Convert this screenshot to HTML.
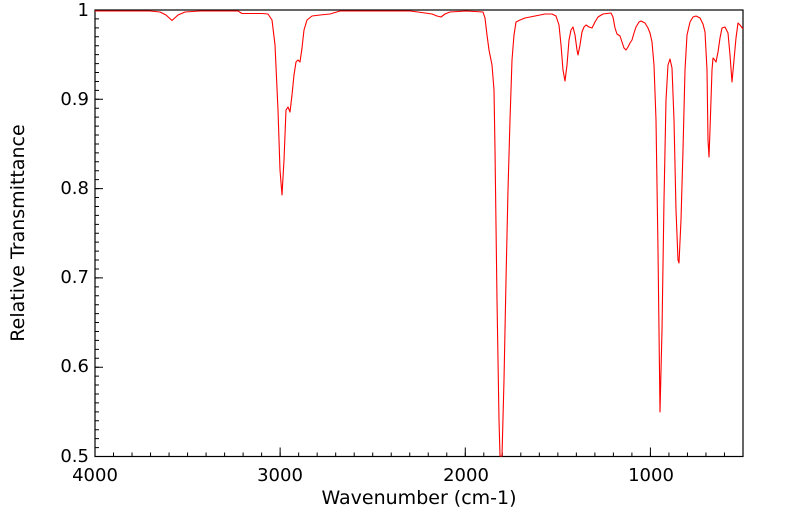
<!DOCTYPE html>
<html><head><meta charset="utf-8"><style>
html,body{margin:0;padding:0;background:#fff;}
svg{display:block;}
text{font-family:"DejaVu Sans","Liberation Sans",sans-serif;fill:#000;}
</style></head><body>
<svg width="799" height="516" viewBox="0 0 799 516" xmlns="http://www.w3.org/2000/svg">
<g stroke="#000" fill="none">
<line x1="97" y1="9.5" x2="97" y2="457.5" stroke-width="4" stroke-dasharray="1 7.93"/>
<line x1="99" y1="9.5" x2="99" y2="457.5" stroke-width="8" stroke-dasharray="1 88.3"/>
<line x1="94.5" y1="454.5" x2="744" y2="454.5" stroke-width="4" stroke-dasharray="1 17.514"/>
<line x1="94.5" y1="452" x2="744" y2="452" stroke-width="9" stroke-dasharray="1 184.14"/>
</g>
<rect x="95" y="10" width="648" height="446.5" fill="none" stroke="#000" stroke-width="1.2"/>
<polyline fill="none" stroke="#ff0000" stroke-width="1.1" stroke-linejoin="round" points="
95,11 150,11 160,12 166,15 172,20.5 178,15 185,12 200,11 238,11 242,13.5 262,13.5 268,14 272,20 275,45 278,110 280,170 282,195 284,160 286,110 288,107 290,112 292,95 294,75 296,62 298,60 300,62 302,48 304,30 307,20 312,16 320,15 330,14 340,11 410,11 418,12 425,13 432,14 437,16 441,17 445,14 450,12 466,11 483,12 485,18 487,35 489,50 491,60 492,65 494,90 495,150 497,300 499,420 500,456 502,456 504,380 506,280 508,190 510,120 512,60 514,35 516,22 520,20 525,18 535,16 545,14 552,14 556,16 559,25 561,45 563,70 565,81 567,65 569,40 571,30 573,27 575,35 577,50 578,55 580,45 582,32 584,27 586,25 589,27 592,28 595,22 598,17 603,14 611,13 613,17 615,28 617,34 620,36 622,42 624,48 626,50 628,47 630,43 632,40 634,33 636,27 639,22 641,21 645,23 648,28 650,33 652,42 654,65 656,120 658,250 660,412 662,330 664,200 666,100 668,65 670,59 672,68 674,120 676,210 678,260 679,263 681,220 683,150 685,70 687,35 690,22 693,17 696,16 700,18 703,24 705,32 707,70 708,140 709,157 710,130 712,70 713,58 714,59 716,62 718,52 720,38 722,28 725,27 728,33 730,55 732,82 734,60 736,38 738,23 740,25 743,29"/>
<g font-size="18">
<text x="89" y="16" text-anchor="end">1</text>
<text x="89" y="105" text-anchor="end">0.9</text>
<text x="89" y="194" text-anchor="end">0.8</text>
<text x="89" y="283" text-anchor="end">0.7</text>
<text x="89" y="372" text-anchor="end">0.6</text>
<text x="89" y="462" text-anchor="end">0.5</text>
<text x="95" y="481" text-anchor="middle">4000</text>
<text x="280" y="481" text-anchor="middle">3000</text>
<text x="466" y="481" text-anchor="middle">2000</text>
<text x="651" y="481" text-anchor="middle">1000</text>
</g>
<g font-size="19">
<text x="419" y="504" text-anchor="middle">Wavenumber (cm-1)</text>
<text transform="translate(24,233) rotate(-90)" text-anchor="middle">Relative Transmittance</text>
</g>
</svg>
</body></html>
